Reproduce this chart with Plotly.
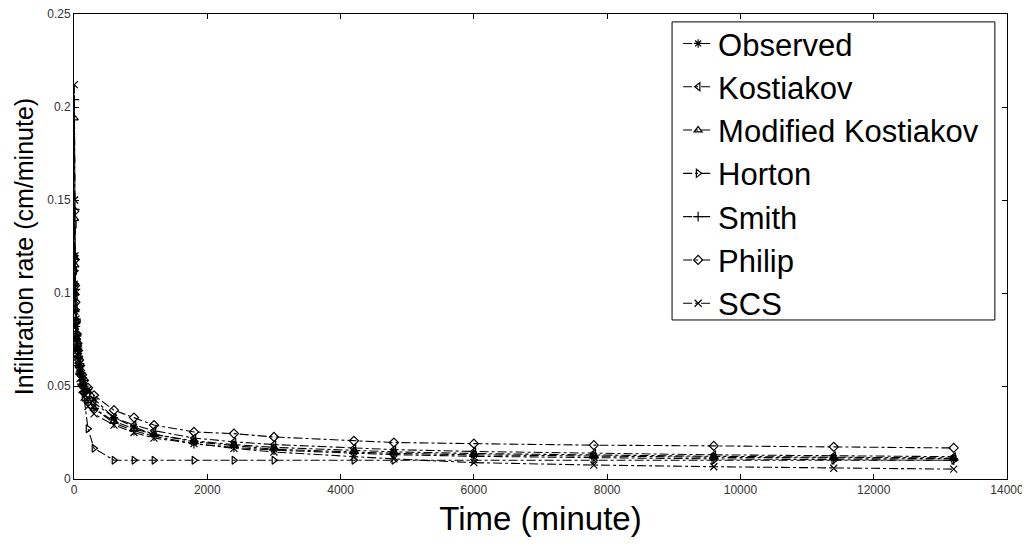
import plotly.graph_objects as go

# time of each reading (minute)
times = [5, 10, 15, 20, 30, 40, 50, 60, 75, 90, 120, 150, 210, 300, 600, 900,
         1200, 1800, 2400, 3000, 4200, 4800, 6000, 7800, 9600, 11400, 13200]

# infiltration rate (cm/minute)
observed = [0.120, 0.105, 0.096, 0.090, 0.082, 0.077, 0.073, 0.070, 0.066, 0.062,
            0.057, 0.053, 0.048, 0.043, 0.033, 0.028, 0.024, 0.020, 0.018, 0.016,
            0.0145, 0.0138, 0.0130, 0.0122, 0.0117, 0.0113, 0.0110]
kostiakov = [0.137, 0.112, 0.100, 0.092, 0.082, 0.075, 0.070, 0.066, 0.062, 0.058,
             0.053, 0.050, 0.045, 0.041, 0.033, 0.029, 0.026, 0.022, 0.020, 0.0185,
             0.0165, 0.0158, 0.0148, 0.0138, 0.0130, 0.0125, 0.0120]
mod_kostiakov = [0.194, 0.140, 0.115, 0.100, 0.085, 0.076, 0.070, 0.066, 0.061, 0.057,
                 0.051, 0.047, 0.042, 0.038, 0.031, 0.027, 0.024, 0.0205, 0.0185, 0.017,
                 0.0152, 0.0146, 0.0137, 0.0128, 0.0122, 0.0117, 0.0113]
horton = [0.120, 0.112, 0.105, 0.099, 0.091, 0.084, 0.078, 0.072, 0.065, 0.059,
          0.051, 0.044, 0.027, 0.0165, 0.0101, 0.0101, 0.0101, 0.0101, 0.0101, 0.0101,
          0.0101, 0.0101, 0.0101, 0.0101, 0.0101, 0.0101, 0.0101]
smith = [0.204, 0.145, 0.118, 0.102, 0.086, 0.077, 0.071, 0.066, 0.061, 0.057,
         0.051, 0.047, 0.042, 0.038, 0.030, 0.026, 0.023, 0.019, 0.017, 0.0155,
         0.0137, 0.0131, 0.0122, 0.0114, 0.0108, 0.0104, 0.0101]
philip = [0.144, 0.118, 0.104, 0.095, 0.085, 0.078, 0.073, 0.069, 0.064, 0.061,
          0.056, 0.053, 0.049, 0.045, 0.037, 0.033, 0.029, 0.0253, 0.0244, 0.0226,
          0.0205, 0.0196, 0.0190, 0.0182, 0.0178, 0.0173, 0.0167]
scs = [0.212, 0.150, 0.120, 0.103, 0.086, 0.076, 0.069, 0.064, 0.058, 0.054,
       0.048, 0.044, 0.039, 0.035, 0.029, 0.025, 0.022, 0.019, 0.0165, 0.0145,
       0.0120, 0.0108, 0.0088, 0.0075, 0.0066, 0.0058, 0.0053]

x_ticks = [0, 2000, 4000, 6000, 8000, 10000, 12000, 14000]
y_ticks = [0, 0.05, 0.1, 0.15, 0.2, 0.25]
y_labels = ["0", "0.05", "0.1", "0.15", "0.2", "0.25"]

series = [
    ("Observed", observed, "asterisk-open"),
    ("Kostiakov", kostiakov, "triangle-left-open"),
    ("Modified Kostiakov", mod_kostiakov, "triangle-up-open"),
    ("Horton", horton, "triangle-right-open"),
    ("Smith", smith, "cross-thin-open"),
    ("Philip", philip, "diamond-open"),
    ("SCS", scs, "x-thin-open"),
]

fig = go.Figure()
for name, vals, sym in series:
    fig.add_trace(go.Scatter(
        x=times, y=vals, name=name, mode="lines+markers",
        legendgroup=name,
        line=dict(color="black", width=1.1, dash="dashdot"),
        marker=dict(symbol=sym, size=7, color="black",
                    line=dict(color="black", width=1.2)),
    ))

# legend frame drawn as a shape (plotly's own legend padding is too loose)
fig.add_shape(type="rect", xref="paper", yref="paper",
              x0=0.641, x1=0.987, y0=0.342, y1=0.983,
              line=dict(color="black", width=1), fillcolor="white", layer="above")

tickfont = dict(family="Liberation Sans, Arial", size=12, color="#333")

# page body has an 8px margin, so the figure is a bit smaller than the window
fig.update_layout(
    width=1022, height=531,
    margin=dict(l=66, r=23, t=6, b=60, autoexpand=False),
    paper_bgcolor="white", plot_bgcolor="white",
    font=dict(family="Liberation Sans, Arial", color="black"),
    showlegend=True,
    legend=dict(
        x=0.6475, y=0.994, xanchor="left", yanchor="top",
        bgcolor="rgba(0,0,0,0)", borderwidth=0,
        font=dict(size=31, family="Liberation Sans, Arial"),
        tracegroupgap=0, itemwidth=30,
    ),
    xaxis=dict(
        range=[0, 14000], tickvals=x_ticks, ticktext=[str(v) for v in x_ticks],
        showgrid=False, zeroline=False, automargin=False,
        showline=True, linecolor="black", linewidth=1, mirror="ticks",
        ticks="inside", ticklen=5, tickcolor="black",
        tickfont=tickfont, ticklabeloverflow="allow",
        title=dict(text="Time (minute)", standoff=10,
                   font=dict(size=33, family="Liberation Sans, Arial")),
    ),
    yaxis=dict(
        range=[0, 0.25], tickvals=y_ticks, ticktext=y_labels,
        showgrid=False, zeroline=False, automargin=False,
        showline=True, linecolor="black", linewidth=1, mirror="ticks",
        ticks="inside", ticklen=5, tickcolor="black",
        tickfont=tickfont, ticklabeloverflow="allow",
        title=dict(text="Infiltration rate (cm/minute)", standoff=6,
                   font=dict(size=25, family="Liberation Sans, Arial")),
    ),
)

fig.write_html("out.html")
